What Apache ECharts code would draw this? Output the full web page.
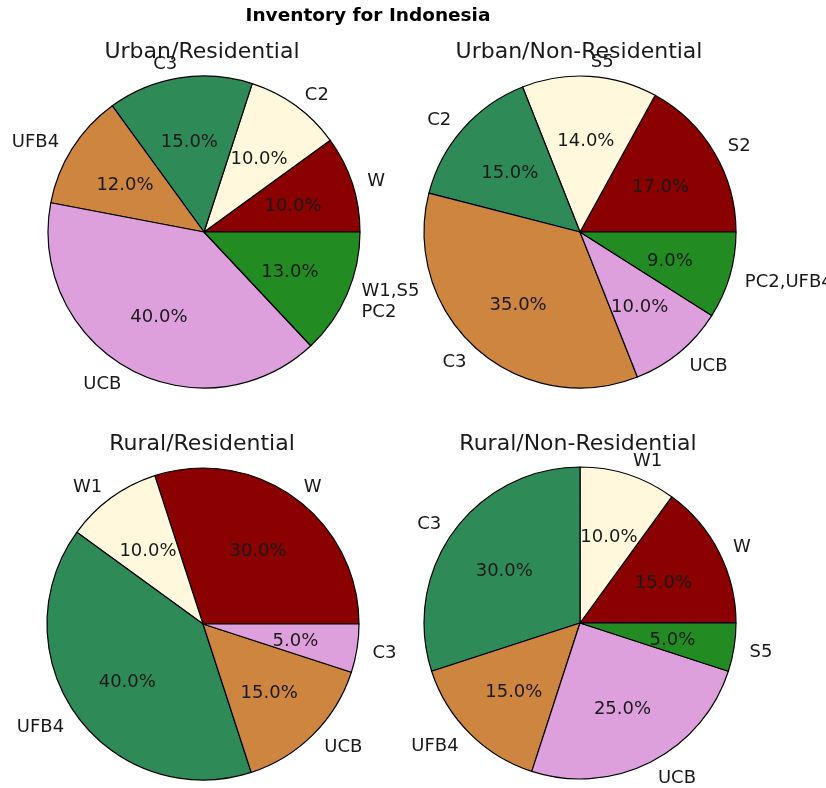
<!DOCTYPE html>
<html>
<head>
<meta charset="utf-8">
<script src="https://cdn.jsdelivr.net/npm/echarts@6/dist/echarts.min.js"></script>
<style>
html,body{margin:0;padding:0;background:#fff;}
#chart{width:826px;height:788px;}
</style>
</head>
<body>
<div id="chart"></div>
<script>
// ---- data ----
const suptitle = 'Inventory for Indonesia';
const titles = ['Urban/Residential', 'Urban/Non-Residential', 'Rural/Residential', 'Rural/Non-Residential'];
const namesUrbanRes = ['W', 'C2', 'C3', 'UFB4', 'UCB', 'W1,S5\nPC2'];
const valuesUrbanRes = [10, 10, 15, 12, 40, 13];
const namesUrbanNonRes = ['S2', 'S5', 'C2', 'C3', 'UCB', 'PC2,UFB4'];
const valuesUrbanNonRes = [17, 14, 15, 35, 10, 9];
const namesRuralRes = ['W', 'W1', 'UFB4', 'UCB', 'C3'];
const valuesRuralRes = [30, 10, 40, 15, 5];
const namesRuralNonRes = ['W', 'W1', 'C3', 'UFB4', 'UCB', 'S5'];
const valuesRuralNonRes = [15, 10, 30, 15, 25, 5];

// ---- styles / layout ----
const palette = ['#8B0000', '#FFF8DC', '#2E8B57', '#CD853F', '#DDA0DD', '#228B22'];
const FONT = 'DejaVu Sans';
const FS = 18;
const R = 156;
const centers = [[204, 232], [580, 232], [203, 624], [580, 623]];
const titlePos = [[197, 36], [574, 36], [197, 428], [573, 428]];
const sets = [
  [namesUrbanRes, valuesUrbanRes],
  [namesUrbanNonRes, valuesUrbanNonRes],
  [namesRuralRes, valuesRuralRes],
  [namesRuralNonRes, valuesRuralNonRes]
];

const txt = { color: '#1a1a1a', fontFamily: FONT, fontSize: FS };

const series = [];
sets.forEach(([names, values], i) => {
  const sliceData = names.map((n, k) => ({
    name: n, value: values[k],
    itemStyle: { color: palette[k % palette.length] }
  }));
  const labelData = names.map((n, k) => ({ name: n, value: values[k] }));
  // slices + outer name labels at 1.1 r
  series.push({
    type: 'pie',
    center: centers[i],
    radius: [0, R],
    startAngle: 0,
    clockwise: false,
    avoidLabelOverlap: false,
    silent: true,
    itemStyle: { borderColor: '#000', borderWidth: 1.2 },
    label: Object.assign({
      show: true, position: 'outside',
      formatter: p => p.name.split('\n').map(s => '{n|' + s + '}').join('\n'),
      rich: { n: Object.assign({ padding: [4, 0, 0, 0], lineHeight: 21 }, txt) },
      distanceToLabelLine: 0, overflow: 'none'
    }, txt),
    labelLine: { show: false, length: R * 0.1, length2: 0 },
    emphasis: { disabled: true },
    data: sliceData
  });
  // percentage labels at 0.6 r
  series.push({
    type: 'pie',
    center: centers[i],
    radius: [0, 2 * (0.6 * R - 3)],
    startAngle: 0,
    clockwise: false,
    avoidLabelOverlap: false,
    silent: true,
    itemStyle: { color: 'rgba(0,0,0,0)', borderWidth: 0 },
    label: Object.assign({
      show: true, position: 'inside',
      formatter: p => '{p|' + p.value.toFixed(1) + '%}',
      rich: { p: Object.assign({ padding: [6, 0, 0, 0] }, txt) }
    }, txt),
    labelLine: { show: false },
    emphasis: { disabled: true },
    data: labelData
  });
});

const titleOpts = [{
  text: suptitle, left: 363, top: 2, textAlign: 'center',
  textStyle: { fontFamily: FONT, fontSize: 18.5, fontWeight: 'bold', color: '#000' }
}];
titles.forEach((t, i) => {
  titleOpts.push({
    text: t, left: titlePos[i][0], top: titlePos[i][1], textAlign: 'center',
    textStyle: { fontFamily: FONT, fontSize: 22, fontWeight: 'normal', color: '#1a1a1a' }
  });
});

const chart = echarts.init(document.getElementById('chart'), null, { renderer: 'canvas' });
chart.setOption({
  animation: false,
  backgroundColor: '#fff',
  title: titleOpts,
  series: series
});
</script>
</body>
</html>
